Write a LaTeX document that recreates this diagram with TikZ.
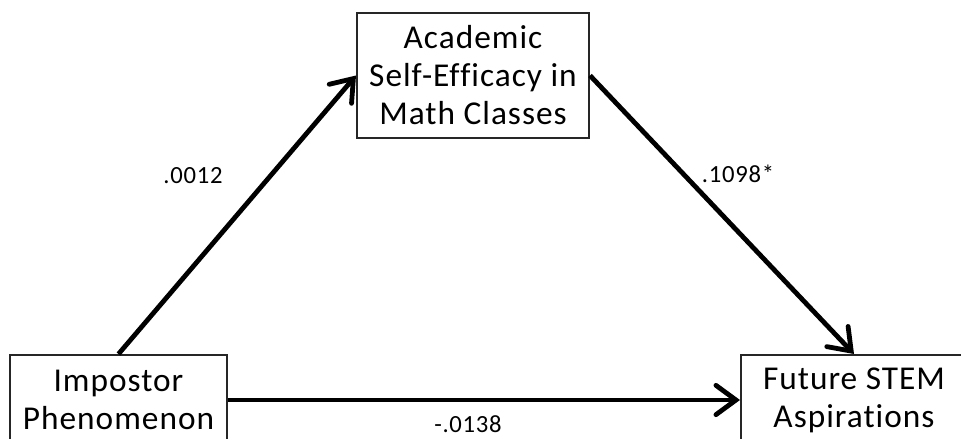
\documentclass[tikz,border=0pt]{standalone}
\usepackage{fontspec}
\setmainfont{Carlito}[Ligatures={NoCommon},LetterSpace=3]
\usetikzlibrary{arrows.meta}
\begin{document}
\begin{tikzpicture}[x=0.75pt,y=-0.75pt,
  box/.style={draw=black!85,line width=1.5pt,fill=white,align=center,
    font=\fontsize{25}{28.5}\selectfont,inner sep=0pt},
  conn/.style={line width=3.6pt,-{Straight Barb[length=15pt,width=22pt,line cap=round]}},
  lab/.style={font=\fontsize{18.5}{22}\selectfont,inner sep=0pt}]
\clip (0,0) rectangle (961,439);
\fill[white] (0,0) rectangle (961,439);
\node[box,minimum width=232*0.75pt,minimum height=125*0.75pt] (ase) at (473,75.5)
  {Academic\\Self-Efficacy in\\Math Classes};
\node[box,minimum width=217*0.75pt,minimum height=90*0.75pt] (ip) at (118.5,400)
  {Impostor\\Phenomenon};
\node[box,minimum width=226*0.75pt,minimum height=90*0.75pt] (fsa) at (854,400)
  {Future STEM\\Aspirations};
\draw[conn] (ip.north) -- (ase.west);
\draw[conn] (ase.east) -- (fsa.north);
\draw[conn] (ip.east) -- (fsa.west);
\node[lab] (l1) at (193,176) {.0012};
\node[lab] (l2) at (738,174) {.1098*};
\node[lab] (l3) at (468,424) {-.0138};
\end{tikzpicture}
\end{document}
